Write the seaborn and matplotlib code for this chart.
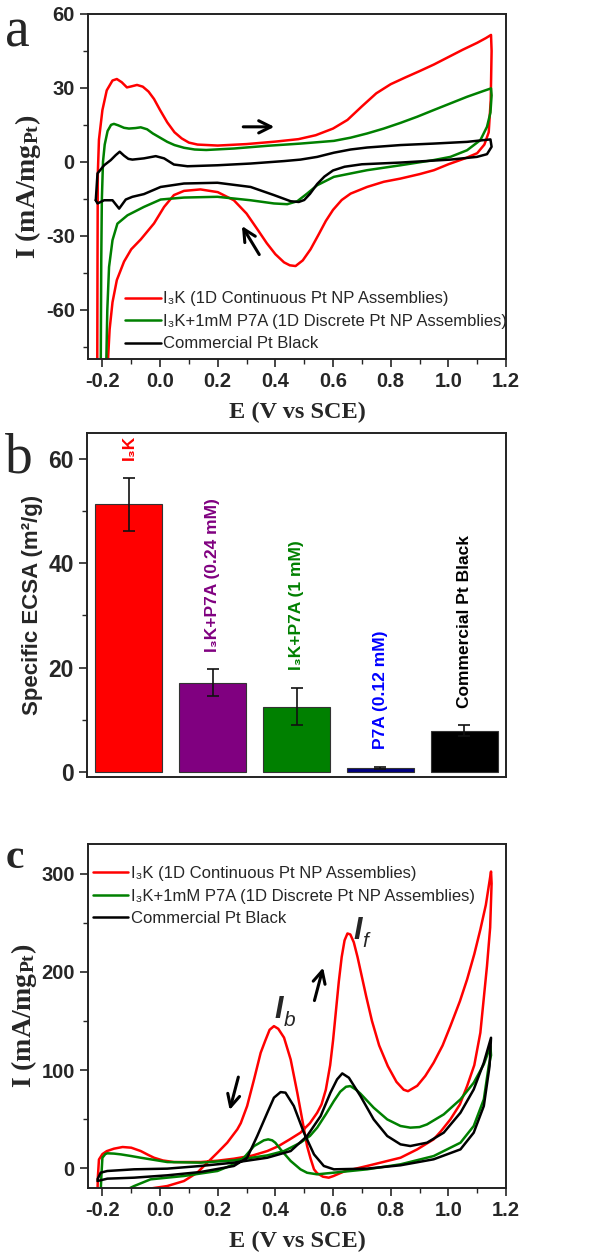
import matplotlib
matplotlib.use("Agg")
import matplotlib.pyplot as plt
import seaborn as sns
from matplotlib.ticker import MultipleLocator

# ---- panel a: CV in H2SO4 ----
a_red_E = [-0.218, -0.217, -0.216, -0.212, -0.200, -0.185, -0.165, -0.150, -0.133, -0.115,
           -0.100, -0.080, -0.060, -0.040, -0.021, 0.000, 0.025, 0.050, 0.075, 0.100,
           0.130, 0.200, 0.300, 0.400, 0.480, 0.540, 0.600, 0.650, 0.700, 0.750,
           0.800, 0.850, 0.900, 0.950, 1.000, 1.050, 1.100, 1.130, 1.148,
           1.150, 1.147, 1.140, 1.125, 1.100, 1.060, 1.000, 0.950, 0.900, 0.834,
           0.776, 0.718, 0.661, 0.630, 0.600, 0.575, 0.550, 0.522, 0.495, 0.470, 0.450,
           0.430, 0.400, 0.370, 0.340, 0.300, 0.256, 0.200, 0.140, 0.083, 0.048,
           0.014, -0.021, -0.067, -0.100, -0.125, -0.150, -0.165, -0.175, -0.180, -0.183, -0.218]
a_red_I = [-90, -40, -5, 9, 21, 29, 33, 33.6, 32.3, 30.2,
           30.6, 31.2, 30.5, 28.5, 25.5, 21, 16, 12, 9.5, 7.8,
           7.0, 6.6, 7.2, 8.2, 9.2, 10.8, 13.5, 17, 22.5, 27.8,
           31.5, 34.2, 36.8, 39.5, 42.5, 45.5, 48.3, 50.2, 51.5,
           45, 25, 12, 7, 3.5, 1.5, -1.0, -3.4, -5.0, -6.8,
           -8.1, -10.2, -12.9, -15.5, -19.5, -24, -29.5, -35.5, -40, -42.3, -42.0,
           -40.8, -37.5, -33, -27.8, -21, -15.6, -12.3, -11.2, -11.8, -13.5,
           -18.3, -25, -31.5, -35.5, -40.5, -48, -57, -68, -79, -90, -90]

a_grn_E = [-0.206, -0.204, -0.202, -0.198, -0.192, -0.182, -0.170, -0.160, -0.145, -0.125,
           -0.108, -0.085, -0.067, -0.045, -0.025, 0.000, 0.025, 0.050, 0.083, 0.120,
           0.160, 0.256, 0.372, 0.487, 0.603, 0.661, 0.718, 0.776, 0.834, 0.892,
           0.949, 1.007, 1.065, 1.123, 1.148,
           1.150, 1.146, 1.134, 1.111, 1.065, 1.007, 0.949, 0.834, 0.718, 0.603,
           0.545, 0.510, 0.476, 0.441, 0.395, 0.314, 0.199, 0.083, 0.002, -0.056,
           -0.113, -0.148, -0.165, -0.177, -0.183, -0.188, -0.206]
a_grn_I = [-90, -40, -15.6, 0, 7, 12.5, 15, 15.4, 14.8, 13.8,
           13.5, 13.7, 14.0, 13.2, 11.5, 9.8, 8.1, 6.8, 5.7, 5.0,
           4.8, 5.4, 6.5, 7.4, 8.5, 9.8, 11.5, 13.5, 15.8, 18.3,
           21.0, 23.7, 26.4, 28.8, 29.8,
           27, 20, 14.2, 8.8, 4.7, 2.0, 0.7, -1.4, -3.4, -6.1,
           -9.5, -12.9, -16.0, -17.2, -16.9, -15.6, -14.2, -14.5, -15.3, -18.3,
           -21.7, -25.1, -31.8, -42.7, -60, -90, -90]

a_blk_E = [-0.223, -0.217, -0.194, -0.171, -0.154, -0.140, -0.125, -0.110, -0.096, -0.056,
           -0.015, 0.014, 0.048, 0.095, 0.199, 0.314, 0.430, 0.487, 0.545, 0.603,
           0.661, 0.718, 0.834, 0.949, 1.065, 1.146,
           1.150, 1.134, 1.099, 1.007, 0.834, 0.700, 0.640, 0.600, 0.570, 0.545,
           0.520, 0.500, 0.481, 0.453, 0.395, 0.314, 0.199, 0.083, 0.002, -0.056,
           -0.096, -0.119, -0.142, -0.165, -0.194, -0.217, -0.223]
a_blk_I = [-15.6, -4.7, -1.4, 0.7, 2.7, 4.1, 2.5, 1.2, 0.9, 1.4,
           2.3, 1.4, -1.1, -1.8, -1.4, -0.7, 0.3, 0.9, 2.0, 3.7,
           5.0, 5.8, 6.8, 7.4, 8.1, 9.1,
           6.1, 3.1, 2.0, 0.9, -0.3, -1.0, -2.0, -3.5, -6.0, -9.0,
           -13.0, -15.5, -16.3, -16.0, -13.5, -10.2, -8.5, -8.8, -10.2, -13.1,
           -14.2, -15.3, -19.0, -15.6, -15.6, -16.9, -15.6]

# ---- panel b: specific ECSA ----
bar_names = ["I₃K", "I₃K+P7A (0.24 mM)", "I₃K+P7A (1 mM)", "P7A (0.12 mM)", "Commercial Pt Black"]
ecsa = [51.3, 17.1, 12.5, 0.7, 7.9]
ecsa_err = [5.1, 2.55, 3.55, 0.2, 1.0]
bar_colors = ["#ff0000", "#800080", "#008000", "#000080", "#000000"]
label_colors = ["#ff0000", "#800080", "#008000", "#0000ff", "#000000"]

# ---- panel c: methanol oxidation CV ----
c_red_E = [-0.217, -0.216, -0.212, -0.200, -0.185, -0.160, -0.130, -0.100, -0.067, -0.040,
           -0.021, 0.010, 0.048, 0.141, 0.200, 0.256, 0.320, 0.372, 0.410, 0.450,
           0.487, 0.520, 0.545, 0.560, 0.575, 0.590, 0.600, 0.610, 0.620, 0.630,
           0.640, 0.650, 0.660, 0.672, 0.685, 0.700, 0.715, 0.735, 0.760, 0.790,
           0.820, 0.845, 0.860, 0.892, 0.920, 0.949, 0.980, 1.007, 1.040, 1.065,
           1.090, 1.111, 1.130, 1.148,
           1.150, 1.145, 1.134, 1.111, 1.090, 1.065, 1.040, 1.007, 0.975, 0.949,
           0.892, 0.834, 0.718, 0.640, 0.600, 0.585, 0.565, 0.545, 0.534, 0.522,
           0.510, 0.493, 0.476, 0.453, 0.430, 0.410, 0.395, 0.380, 0.365, 0.349,
           0.326, 0.302, 0.280, 0.268, 0.233, 0.199, 0.164, 0.129, 0.083, 0.025,
           -0.067, -0.150, -0.217]
c_red_I = [-25, -10, 9, 14.5, 17.5, 20, 21.7, 21, 17.6, 13.5,
           10.8, 8, 6.4, 6.4, 7.8, 9.8, 13, 17.6, 22.5, 29.5,
           36.3, 46, 56.6, 65, 80, 105, 130, 160, 190, 215,
           232, 239, 238, 230, 215, 195, 175, 150, 125, 104,
           88, 80, 78.5, 84, 94, 107.5, 125, 144.7, 170, 192.2,
           218, 243, 268, 302,
           290, 245, 205.8, 138, 105, 83.7, 65, 49.8, 38, 29.5,
           19.3, 10.8, 2.4, -3, -8, -9.5, -8.5, -5, -1, 10,
           22.7, 49.8, 76.9, 110.8, 133, 142, 144.7, 141, 130, 117.6,
           90.5, 63.4, 46, 39.7, 26.1, 15.9, 5.8, -4.4, -12.9, -18,
           -22, -30, -25]

c_grn_E = [-0.206, -0.204, -0.200, -0.190, -0.183, -0.160, -0.136, -0.100, -0.067, 0.025,
           0.141, 0.256, 0.372, 0.430, 0.487, 0.520, 0.545, 0.575, 0.603, 0.625,
           0.645, 0.660, 0.680, 0.695, 0.741, 0.788, 0.834, 0.868, 0.900, 0.926,
           0.984, 1.042, 1.088, 1.123, 1.146,
           1.148, 1.140, 1.123, 1.088, 1.042, 0.949, 0.834, 0.718, 0.603, 0.545,
           0.510, 0.487, 0.453, 0.418, 0.400, 0.389, 0.375, 0.360, 0.340, 0.326,
           0.291, 0.256, 0.199, 0.083, -0.033, -0.090, -0.125, -0.206]
c_grn_I = [-25, -10, 10.8, 14.5, 15.3, 15, 14.2, 12.5, 10.8, 6.4,
           5.8, 8.1, 13.2, 17.6, 26.1, 33, 41.4, 55, 68.5, 78,
           83, 83.7, 80, 76, 61.7, 49.8, 43.1, 41.4, 42, 44.7,
           54.9, 70.2, 87.1, 105.8, 124.4,
           115, 104.1, 70.2, 43.1, 26.1, 12.5, 4.1, -1.0, -4.4, -6.1,
           -4.5, -1.0, 7.5, 19.3, 26, 28.5, 29.5, 28.5, 25, 22.7,
           10.8, 4.1, -2.7, -7.8, -11.2, -18.0, -23, -25]

c_blk_E = [-0.217, -0.206, -0.183, -0.090, 0.025, 0.141, 0.256, 0.372, 0.453, 0.510,
           0.557, 0.591, 0.614, 0.632, 0.655, 0.695, 0.741, 0.788, 0.834, 0.868,
           0.926, 0.984, 1.042, 1.088, 1.123, 1.148,
           1.143, 1.123, 1.088, 1.042, 0.949, 0.834, 0.718, 0.603, 0.568, 0.534,
           0.499, 0.464, 0.435, 0.418, 0.395, 0.372, 0.337, 0.302, 0.256, 0.141,
           0.025, -0.090, -0.183, -0.217]
c_blk_I = [-11.2, -4.4, -2.7, -1.0, -0.3, 2.4, 5.8, 10.8, 17.6, 32.9,
           53.2, 77, 90.5, 96.6, 92.2, 73.6, 49.8, 32.9, 24.4, 22.7,
           26.1, 36.3, 56.6, 80.3, 107.5, 132.9,
           104.1, 63.4, 36.3, 19.3, 9.2, 3.1, -0.3, -1.0, 2.4, 14.2,
           36.3, 63.4, 77, 77.6, 71.9, 56.6, 32.9, 10.8, 2.4, -3.7,
           -7.1, -9.5, -10.5, -12.9]

legend_labels = ["I₃K (1D Continuous Pt NP Assemblies)",
                 "I₃K+1mM P7A (1D Discrete Pt NP Assemblies)",
                 "Commercial Pt Black"]
line_colors = ["#ff0000", "#008000", "#000000"]

sns.set_style("ticks")
plt.rcParams["font.family"] = ["Liberation Sans", "DejaVu Sans"]
plt.rcParams["font.weight"] = "bold"
plt.rcParams["axes.unicode_minus"] = False
plt.rcParams["mathtext.fontset"] = "custom"
plt.rcParams["mathtext.rm"] = "Liberation Serif:bold"
plt.rcParams["mathtext.default"] = "rm"
plt.rcParams["axes.linewidth"] = 1.4
plt.rcParams["axes.edgecolor"] = "#222222"

xlab_font = {"family": "Liberation Serif", "weight": "bold", "size": 17.5}
ylab_font = {"family": "Liberation Serif", "weight": "bold", "size": 20}
leg_font = {"family": ["Liberation Sans", "DejaVu Sans"], "weight": "normal", "size": 12}

fig = plt.figure(figsize=(5.89, 12.59), dpi=100)
ax_a = fig.add_axes([0.1494, 0.7149, 0.7097, 0.2740])
ax_b = fig.add_axes([0.1477, 0.3828, 0.7114, 0.2732])
ax_c = fig.add_axes([0.1494, 0.0564, 0.7097, 0.2732])


def style_ticks(ax, size):
    ax.tick_params(which="major", direction="out", length=6, width=1.2, labelsize=size)
    ax.tick_params(which="minor", direction="out", length=3.5, width=1.0)
    for t in ax.get_xticklabels() + ax.get_yticklabels():
        t.set_fontweight("bold")


def arrow(ax, tail, head):
    ax.annotate("", xy=head, xytext=tail,
                arrowprops=dict(arrowstyle="->", lw=2.2, color="k", mutation_scale=22))


# panel a
for E, I, col, lab in zip([a_red_E, a_grn_E, a_blk_E], [a_red_I, a_grn_I, a_blk_I],
                          line_colors, legend_labels):
    sns.lineplot(x=E, y=I, sort=False, estimator=None, color=col, lw=1.8, label=lab, ax=ax_a)
ax_a.set_xlim(-0.25, 1.2)
ax_a.set_ylim(-80, 60)
ax_a.xaxis.set_major_locator(MultipleLocator(0.2))
ax_a.xaxis.set_minor_locator(MultipleLocator(0.1))
ax_a.yaxis.set_major_locator(MultipleLocator(30))
ax_a.yaxis.set_minor_locator(MultipleLocator(15))
ax_a.set_xlabel("E (V vs SCE)", fontdict=xlab_font, labelpad=8)
ax_a.set_ylabel("I (mA/mg$_{Pt}$)", fontdict=ylab_font, labelpad=2)
ax_a.legend(loc="lower left", bbox_to_anchor=(0.06, -0.012), frameon=False, prop=leg_font,
            handlelength=2.15, handletextpad=0.15, labelspacing=0.45, borderpad=0.2)
arrow(ax_a, (0.279, 14.2), (0.406, 14.2))
arrow(ax_a, (0.349, -38.6), (0.279, -25.1))
style_ticks(ax_a, 14.5)

# panel b
sns.barplot(x=bar_names, y=ecsa, hue=bar_names, palette=bar_colors, legend=False,
            saturation=1, width=0.8, edgecolor="#333333", linewidth=0.8, ax=ax_b)
ax_b.errorbar(range(len(ecsa)), ecsa, yerr=ecsa_err, fmt="none", ecolor="#111111",
              elinewidth=1.2, capsize=4.5, capthick=1.2)
for i, (name, v, e, c) in enumerate(zip(bar_names, ecsa, ecsa_err, label_colors)):
    ax_b.text(i, v + e + 3.4, name, rotation=90, ha="center", va="bottom",
              color=c, fontsize=12.5, fontweight="bold")
ax_b.set_xlim(-0.5, 4.5)
ax_b.set_ylim(-1, 65)
ax_b.set_xticks([])
ax_b.set_xlabel("")
ax_b.yaxis.set_major_locator(MultipleLocator(20))
ax_b.yaxis.set_minor_locator(MultipleLocator(10))
ax_b.set_ylabel("Specific ECSA (m²/g)", fontsize=16, fontweight="bold", labelpad=4)
style_ticks(ax_b, 16.5)

# panel c
for E, I, col, lab in zip([c_red_E, c_grn_E, c_blk_E], [c_red_I, c_grn_I, c_blk_I],
                          line_colors, legend_labels):
    sns.lineplot(x=E, y=I, sort=False, estimator=None, color=col, lw=1.8, label=lab, ax=ax_c)
ax_c.set_xlim(-0.25, 1.2)
ax_c.set_ylim(-20, 330)
ax_c.xaxis.set_major_locator(MultipleLocator(0.2))
ax_c.xaxis.set_minor_locator(MultipleLocator(0.1))
ax_c.yaxis.set_major_locator(MultipleLocator(100))
ax_c.yaxis.set_minor_locator(MultipleLocator(50))
ax_c.set_xlabel("E (V vs SCE)", fontdict=xlab_font, labelpad=8)
ax_c.set_ylabel("I (mA/mg$_{Pt}$)", fontdict=ylab_font, labelpad=2)
ax_c.legend(loc="upper left", bbox_to_anchor=(-0.017, 0.97), frameon=False, prop=leg_font,
            handlelength=2.15, handletextpad=0.15, labelspacing=0.45, borderpad=0.2)
arrow(ax_c, (0.533, 168), (0.568, 207))
arrow(ax_c, (0.274, 95.6), (0.239, 56.6))
ax_c.text(0.672, 226, "I", fontsize=22, fontstyle="italic", fontweight="bold", ha="left", va="bottom")
ax_c.text(0.700, 221, "f", fontsize=15, fontstyle="italic", fontweight="normal", ha="left", va="bottom")
ax_c.text(0.398, 146, "I", fontsize=22, fontstyle="italic", fontweight="bold", ha="left", va="bottom")
ax_c.text(0.428, 141, "b", fontsize=15, fontstyle="italic", fontweight="normal", ha="left", va="bottom")
style_ticks(ax_c, 14.5)

# panel letters
fig.text(0.008, 0.9627, "a", family="Liberation Serif", fontweight="normal", fontsize=40)
fig.text(0.008, 0.625, "b", family="Liberation Serif", fontweight="normal", fontsize=40)
fig.text(0.010, 0.3105, "c", family="Liberation Serif", fontweight="bold", fontsize=30)

fig.savefig("out.png", dpi=100)
